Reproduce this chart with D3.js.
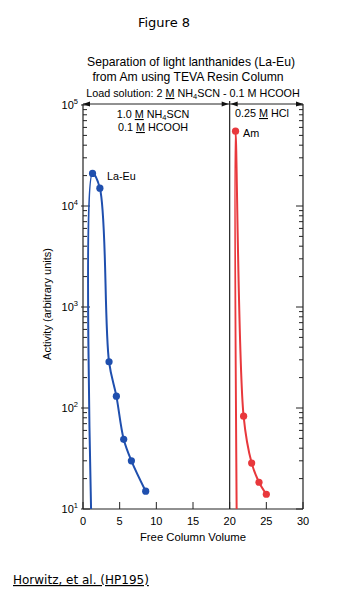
<!DOCTYPE html>
<html><head><meta charset="utf-8">
<script src="https://cdn.jsdelivr.net/npm/d3@7"></script>
<style>body{margin:0;background:#fff}svg{display:block}</style>
</head><body>
<svg id="c" width="351" height="600"></svg>
<script>
// Data
const laEuX = [1.3, 2.3, 3.55, 4.55, 5.55, 6.6, 8.55];
const laEuY = [21000, 15000, 287, 131, 49, 30, 15];
const laEuStart = [1.1, 10];
const amX = [20.8, 21.9, 23.0, 24.0, 25.0];
const amY = [55000, 83, 28.5, 18.4, 14];
const amStart = [20.95, 10];
const xTicks = [0, 5, 10, 15, 20, 25, 30];
const yTicks = [10, 100, 1000, 10000, 100000];
const yExps = ["1", "2", "3", "4", "5"];
const divider = 20;

const svg = d3.select("#c");
const L = 83, R = 303, T = 105, B = 509;
const x = d3.scaleLinear().domain([0, 30]).range([L, R]);
const y = d3.scaleLog().domain([10, 100000]).range([B, T]);
const blue = "#1f4fae", red = "#e8383c";
const font = "Liberation Sans, Arial, sans-serif";

// Titles
svg.append("text").attr("x", 164).attr("y", 27).attr("text-anchor", "middle")
  .attr("font-family", "DejaVu Sans, sans-serif").attr("font-size", 13).text("Figure 8");
svg.append("text").attr("x", 191).attr("y", 66).attr("text-anchor", "middle")
  .attr("font-family", font).attr("font-size", 12.2).text("Separation of light lanthanides (La-Eu)");
svg.append("text").attr("x", 188).attr("y", 81).attr("text-anchor", "middle")
  .attr("font-family", font).attr("font-size", 12.2).text("from Am using TEVA Resin Column");

// Load solution text
const ls = svg.append("text").attr("x", 193).attr("y", 97).attr("text-anchor", "middle")
  .attr("font-family", font).attr("font-size", 10.8);
ls.append("tspan").text("Load solution: 2 ");
ls.append("tspan").attr("text-decoration", "underline").text("M");
ls.append("tspan").text(" NH");
ls.append("tspan").attr("font-size", 7.5).attr("dy", 2).text("4");
ls.append("tspan").attr("dy", -2).text("SCN - 0.1 M HCOOH");

// axes frame
const g = svg.append("g").attr("stroke", "#222").attr("fill", "none");
g.append("line").attr("x1", L).attr("x2", L).attr("y1", T - 1).attr("y2", B).attr("stroke-width", 1.2);
g.append("line").attr("x1", R).attr("x2", R).attr("y1", T - 1).attr("y2", B).attr("stroke-width", 1.2);
g.append("line").attr("x1", L).attr("x2", R).attr("y1", B).attr("y2", B).attr("stroke-width", 1.2);
g.append("line").attr("x1", L).attr("x2", R).attr("y1", T - 1).attr("y2", T - 1).attr("stroke-width", 1);
g.append("line").attr("x1", x(divider)).attr("x2", x(divider)).attr("y1", T - 4).attr("y2", B).attr("stroke-width", 1.2);

// arrowheads
function arrow(px, py, dir) {
  svg.append("path").attr("d", `M${px},${py} l${-dir * 7},-2.5 l0,5 z`).attr("fill", "#111");
}
arrow(L, T - 1, -1); arrow(x(divider) - 1, T - 1, 1);
arrow(x(divider) + 1, T - 1, -1); arrow(R, T - 1, 1);

// y ticks (log)
const minor = [];
for (let d = 10; d < 100000; d *= 10) for (let k = 2; k <= 9; k++) minor.push(d * k);
minor.forEach(v => {
  g.append("line").attr("x1", L).attr("x2", L + 4).attr("y1", y(v)).attr("y2", y(v));
  g.append("line").attr("x1", R).attr("x2", R - 4).attr("y1", y(v)).attr("y2", y(v));
});
yTicks.forEach((v, i) => {
  g.append("line").attr("x1", L - 2).attr("x2", L + 7).attr("y1", y(v)).attr("y2", y(v));
  g.append("line").attr("x1", R).attr("x2", R - 7).attr("y1", y(v)).attr("y2", y(v));
  const t = svg.append("text").attr("x", L - 5).attr("y", y(v) + 4).attr("text-anchor", "end")
    .attr("font-family", font).attr("font-size", 11);
  t.append("tspan").text("10");
  t.append("tspan").attr("font-size", 7.5).attr("dy", -5).text(yExps[i]);
});
// x ticks
xTicks.forEach(v => {
  g.append("line").attr("x1", x(v)).attr("x2", x(v)).attr("y1", B).attr("y2", B - 7);
  svg.append("text").attr("x", x(v)).attr("y", B + 16).attr("text-anchor", "middle")
    .attr("font-family", font).attr("font-size", 11).text(v);
});

// axis labels
svg.append("text").attr("x", 193).attr("y", 541).attr("text-anchor", "middle")
  .attr("font-family", font).attr("font-size", 11.3).text("Free Column Volume");
svg.append("text").attr("transform", "translate(51,304) rotate(-90)").attr("text-anchor", "middle")
  .attr("font-family", font).attr("font-size", 11).text("Activity (arbitrary units)");

// region labels
function mLabel(px, py, before, after, sub) {
  const t = svg.append("text").attr("x", px).attr("y", py).attr("text-anchor", "middle")
    .attr("font-family", font).attr("font-size", 10.8);
  t.append("tspan").text(before);
  t.append("tspan").attr("text-decoration", "underline").text("M");
  if (sub) {
    t.append("tspan").text(" NH");
    t.append("tspan").attr("font-size", 7.5).attr("dy", 2).text("4");
    t.append("tspan").attr("dy", -2).text("SCN");
  } else t.append("tspan").text(after);
}
mLabel(153, 118, "1.0 ", "", true);
mLabel(153, 131, "0.1 ", " HCOOH", false);
mLabel(262, 117, "0.25 ", " HCl", false);

svg.append("text").attr("x", 107).attr("y", 180).attr("font-family", font).attr("font-size", 10.8).text("La-Eu");
svg.append("text").attr("x", 243).attr("y", 137).attr("font-family", font).attr("font-size", 10.8).text("Am");

// lines
const blueData = [laEuStart].concat(laEuX.map((v, i) => [v, laEuY[i]]));
const redData = [amStart].concat(amX.map((v, i) => [v, amY[i]]));
const line = d3.line().x(d => x(d[0])).y(d => y(d[1])).curve(d3.curveCatmullRom.alpha(0.5));
svg.append("path").attr("d", line(blueData))
  .attr("fill", "none").attr("stroke", blue).attr("stroke-width", 2);
svg.append("path").attr("d", line(redData))
  .attr("fill", "none").attr("stroke", red).attr("stroke-width", 2);

svg.selectAll("circle.b").data(laEuX).enter().append("circle")
  .attr("cx", d => x(d)).attr("cy", (d, i) => y(laEuY[i])).attr("r", 3.6).attr("fill", blue);
svg.selectAll("circle.r").data(amX).enter().append("circle")
  .attr("cx", d => x(d)).attr("cy", (d, i) => y(amY[i])).attr("r", 3.6).attr("fill", red);

// citation
svg.append("text").attr("x", 13).attr("y", 584).attr("font-family", "DejaVu Sans, sans-serif")
  .attr("font-size", 12).attr("text-decoration", "underline").text("Horwitz, et al. (HP195)");
</script>
</body></html>
